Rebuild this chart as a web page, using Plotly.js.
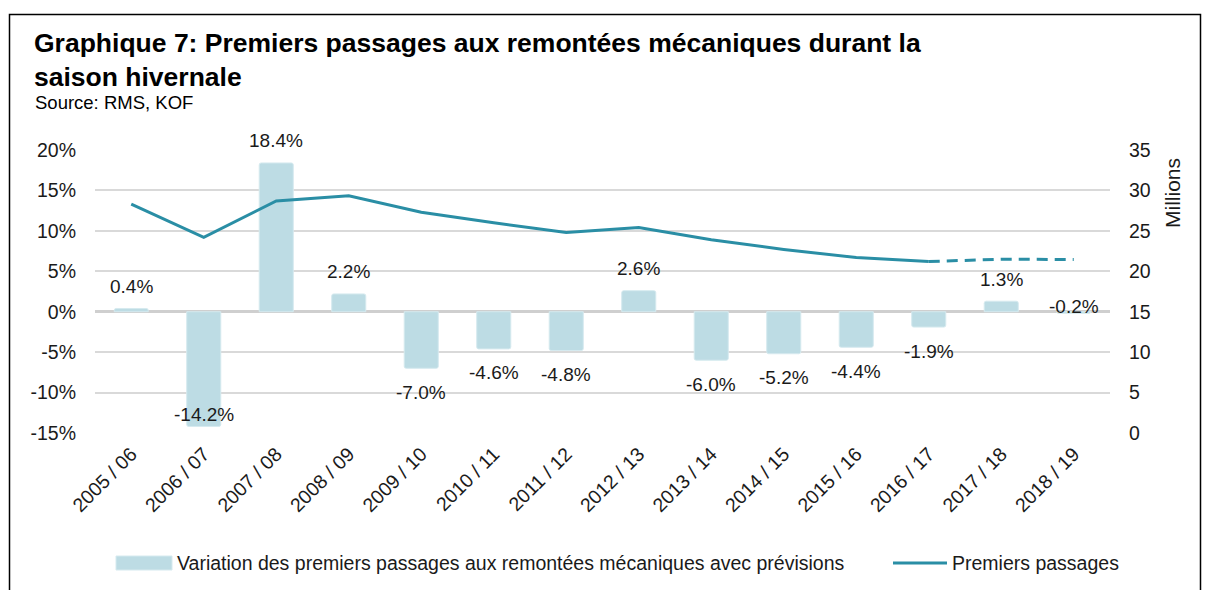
<!DOCTYPE html>
<html>
<head>
<meta charset="utf-8">
<script src="https://cdn.plot.ly/plotly-3.0.1.min.js"></script>
<style>
  html, body { margin: 0; padding: 0; background: #fff; }
  #chart { width: 1207px; height: 590px; }
</style>
</head>
<body>
<div id="chart"></div>
<script>
// ---- Data ----
const seasons = ["2005 / 06", "2006 / 07", "2007 / 08", "2008 / 09", "2009 / 10", "2010 / 11", "2011 / 12",
                 "2012 / 13", "2013 / 14", "2014 / 15", "2015 / 16", "2016 / 17", "2017 / 18", "2018 / 19"];
const variationPct = [0.4, -14.2, 18.4, 2.2, -7.0, -4.6, -4.8, 2.6, -6.0, -5.2, -4.4, -1.9, 1.3, -0.2];
const passagesMio = [28.3, 24.2, 28.7, 29.35, 27.3, 26.0, 24.8, 25.4, 23.9, 22.7, 21.7, 21.2, 21.5, 21.45];
const forecastStart = 11; // index of last observed season (2016 / 17)
const pctTicks = [-15, -10, -5, 0, 5, 10, 15, 20];
const pctTickLabels = pctTicks.map(v => String(v) + "%");   // hyphen-minus, as in the original
const mioTicks = [0, 5, 10, 15, 20, 25, 30, 35];

const barName = "Variation des premiers passages aux remontées mécaniques avec prévisions";
const lineName = "Premiers passages";

// ---- Style ----
const FONT = "Liberation Sans, Arial, sans-serif";
const BAR_COLOR = "#bddce4";
const LINE_COLOR = "#2a8ea5";
const GRID = "#d9d9d9";
const TXT = "#1a1a1a";
const W = 1207, H = 590;
const M = { l: 95, r: 97, t: 150, b: 157 };
const PW = W - M.l - M.r, PH = H - M.t - M.b;
const px = x => (x - M.l) / PW;          // pixel x -> paper
const py = y => (H - M.b - y) / PH;      // pixel y -> paper

const traces = [
  {
    type: "bar", x: seasons, y: variationPct, name: barName,
    marker: { color: BAR_COLOR, line: { color: "#d6eaef", width: 1 }, cornerradius: 2 },
    showlegend: false, hoverinfo: "x+y"
  },
  {
    type: "scatter", mode: "lines", x: seasons.slice(0, forecastStart + 1),
    y: passagesMio.slice(0, forecastStart + 1), yaxis: "y2", name: lineName,
    line: { color: LINE_COLOR, width: 3 }, showlegend: false
  },
  {
    type: "scatter", mode: "lines", x: seasons.slice(forecastStart),
    y: passagesMio.slice(forecastStart), yaxis: "y2", name: lineName + " (prévisions)",
    line: { color: LINE_COLOR, width: 3, dash: "11px,7px" }, showlegend: false
  }
];

// data labels
const annotations = variationPct.map((v, i) => {
  let shift = v >= 0 ? 22 : -24;
  if (v < -13) shift = 12;                  // no room below the axis: label pulled inside the bar
  if (v < 0 && v > -1) shift = 7;           // tiny negative bar: label sits on the axis
  return {
    x: seasons[i], y: v, xref: "x", yref: "y", yshift: shift,
    text: v.toFixed(1) + "%", showarrow: false,
    font: { family: FONT, size: 19, color: TXT }
  };
});

// source line
annotations.push({
  xref: "paper", yref: "paper", x: px(33), y: py(103), xanchor: "left", yanchor: "middle",
  text: "Source: RMS, KOF", showarrow: false, font: { family: FONT, size: 18.5, color: "#000" }
});
// right axis title
annotations.push({
  xref: "paper", yref: "paper", x: px(1172), y: py(193), xanchor: "center", yanchor: "middle",
  text: "Millions", textangle: -90, showarrow: false, font: { family: FONT, size: 21, color: TXT }
});
// legend texts
annotations.push({
  xref: "paper", yref: "paper", x: px(175), y: py(563), xanchor: "left", yanchor: "middle",
  text: barName, showarrow: false, font: { family: FONT, size: 19.5, color: TXT }
});
annotations.push({
  xref: "paper", yref: "paper", x: px(950), y: py(563), xanchor: "left", yanchor: "middle",
  text: lineName, showarrow: false, font: { family: FONT, size: 19.5, color: TXT }
});

const shapes = [
  // outer frame
  { type: "rect", xref: "paper", yref: "paper", x0: px(9.5), x1: px(1200.5), y0: py(620), y1: py(14.5),
    line: { color: "#000", width: 1.5 }, fillcolor: "rgba(0,0,0,0)", layer: "above" },
  // legend swatches
  { type: "rect", xref: "paper", yref: "paper", x0: px(116), x1: px(172), y0: py(570), y1: py(556),
    line: { color: "#d6eaef", width: 1 }, fillcolor: BAR_COLOR },
  { type: "line", xref: "paper", yref: "paper", x0: px(893), x1: px(947), y0: py(563), y1: py(563),
    line: { color: LINE_COLOR, width: 3 } }
];

const layout = {
  width: W, height: H,
  margin: M,
  paper_bgcolor: "#fff", plot_bgcolor: "#fff",
  font: { family: FONT, size: 19, color: TXT },
  title: {
    text: "<b>Graphique 7: Premiers passages aux remontées mécaniques durant la<br>saison hivernale</b>",
    x: 34 / W, xanchor: "left", xref: "container",
    y: 1 - 52 / H, yanchor: "top", yref: "container",
    font: { family: FONT, size: 26.5, color: "#000" }
  },
  showlegend: false,
  bargap: 0.53,
  xaxis: {
    type: "category", tickangle: -45, showgrid: false, zeroline: false, showline: false,
    ticks: "", ticklabelstandoff: 5, tickfont: { family: FONT, size: 19.5, color: TXT }
  },
  yaxis: {
    range: [-15, 20], tickmode: "array", tickvals: pctTicks, ticktext: pctTickLabels,
    showgrid: true, gridcolor: GRID, gridwidth: 2,
    zeroline: true, zerolinecolor: "#cfcfcf", zerolinewidth: 2.5, showline: false, ticks: "",
    ticklabelstandoff: 18, tickfont: { family: FONT, size: 19.5, color: TXT }
  },
  yaxis2: {
    range: [0, 35], tickmode: "array", tickvals: mioTicks, overlaying: "y", side: "right",
    showgrid: false, zeroline: false, showline: false, ticks: "",
    ticklabelstandoff: 18, tickfont: { family: FONT, size: 19.5, color: TXT }
  },
  annotations: annotations,
  shapes: shapes
};

Plotly.newPlot("chart", traces, layout, { displayModeBar: false, staticPlot: true });
</script>
</body>
</html>
